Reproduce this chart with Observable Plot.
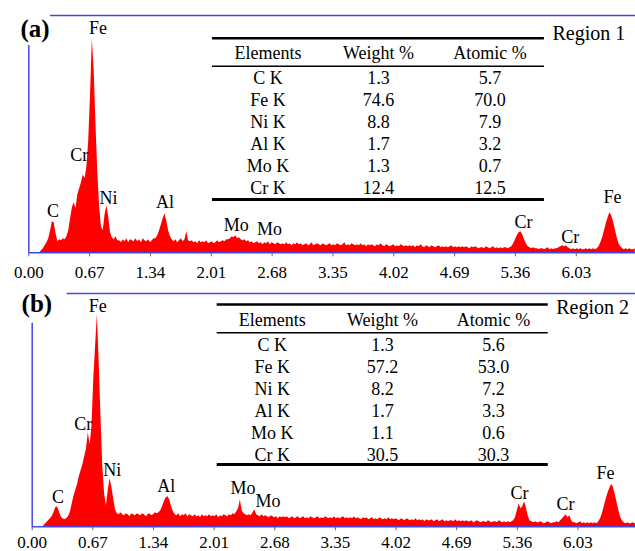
<!DOCTYPE html>
<html>
<head>
<meta charset="utf-8">
<script src="https://cdn.jsdelivr.net/npm/d3@7"></script>
<script src="https://cdn.jsdelivr.net/npm/@observablehq/plot@0.6"></script>
<style>
  html, body { margin: 0; padding: 0; background: #fff; }
  #chart svg { display: block; }
  #chart svg, #chart svg text { font-family: "Liberation Serif", "Times New Roman", serif; }
</style>
</head>
<body>
<div id="chart"></div>
<script>
// ---------- DATA ----------
const channelStart = 0;      // keV
const channelWidth = 0.02;   // keV per channel

// Region 1 spectrum (counts, arbitrary units)
const countsA = [
  0,0,0,0,0,0,0,2,4,7,
  10,14,22,31,30,19,11,13,12,14,
  13,16,22,34,45,50,44,58,64,70,
  78,74,86,112,158,214,182,128,80,46,
  26,22,38,47,36,20,15,13,16,12,
  12,10,13,11,14,10,13,12,11,14,
  11,13,10,14,12,11,13,10,12,14,
  14,17,22,28,34,39,31,22,16,13,
  11,13,10,12,14,11,13,21,12,11,
  12,10,11,9,12,10,11,10,12,9,
  10,11,9,10,12,10,11,12,11,13,
  13,14,16,15,17,14,15,13,12,13,
  11,12,10,11,9,10,11,9,10,8,
  10,9,11,8,10,9,8,10,9,8,
  9,8,10,8,9,7,9,8,10,8,
  9,7,8,9,7,8,10,7,8,9,
  8,7,9,8,7,8,9,7,8,7,
  9,8,7,8,10,7,8,7,9,8,
  7,8,7,9,7,8,6,8,7,8,
  7,6,8,7,9,7,6,8,7,6,
  7,8,6,7,6,8,7,6,7,6,
  7,6,7,5,7,6,8,6,5,7,
  6,5,7,6,5,6,7,5,6,5,
  6,5,6,7,5,6,5,6,5,6,
  5,6,5,4,6,5,6,5,4,5,
  5,4,6,5,4,5,6,4,5,4,
  5,4,5,5,4,5,6,9,13,17,
  20,21,18,13,9,6,5,4,5,4,
  4,3,4,4,3,4,5,3,4,3,
  4,4,5,6,7,6,7,5,4,3,
  4,3,4,3,4,3,3,4,3,4,
  3,4,3,4,6,10,15,22,29,35,
  40,37,31,23,15,9,6,4,3,4,
  3,4,3,3,4
];

// Region 2 spectrum (counts, arbitrary units)
const countsB = [
  0,0,0,0,0,0,0,2,4,6,
  8,10,14,19,20,15,10,8,7,8,
  10,14,22,30,36,42,50,56,62,70,
  78,94,82,100,147,180,212,165,110,60,
  33,21,36,48,40,28,17,13,12,14,
  12,11,13,12,10,13,12,11,13,12,
  11,13,12,10,12,13,11,12,14,13,
  14,16,20,25,29,30,27,20,15,12,
  11,13,10,12,11,13,10,12,11,10,
  12,10,11,9,12,10,11,10,12,10,
  11,10,12,9,11,10,12,11,10,12,
  11,13,12,15,18,27,16,13,12,11,
  12,11,14,17,12,11,10,12,10,11,
  10,9,11,10,9,10,8,10,9,10,
  9,10,8,9,10,8,9,10,8,9,
  10,8,9,8,10,9,8,9,10,8,
  9,8,10,9,8,9,8,10,8,9,
  8,9,10,8,9,8,9,8,10,8,
  9,8,7,9,8,9,7,8,9,7,
  8,7,9,8,7,8,7,9,7,8,
  7,8,7,6,8,7,6,8,7,6,
  7,6,8,6,7,6,7,5,7,6,
  6,7,5,6,7,5,6,7,5,6,
  5,6,6,5,7,5,6,5,6,5,
  6,5,5,6,4,5,6,5,4,5,
  5,4,6,5,4,5,5,4,6,5,
  4,5,4,5,4,5,6,9,16,23,
  18,20,25,19,11,6,5,4,5,4,
  4,5,4,3,4,5,4,3,4,4,
  5,4,6,8,10,12,9,11,6,4,
  4,3,4,5,3,4,3,4,3,4,
  3,4,3,5,8,13,20,27,33,38,
  42,40,33,25,17,10,6,4,3,4,
  3,3,4,3,3
];

const tickEnergies = [0, 0.67, 1.34, 2.01, 2.68, 3.35, 4.02, 4.69, 5.36, 6.03];

// peak annotations: element, energy (keV), label height (counts)
const peakNames   = ["Fe", "Cr", "Ni", "C", "Al", "Mo", "Mo", "Cr", "Cr", "Fe"];
const peakEnergyA = [0.762, 0.555, 0.878, 0.267, 1.500, 2.285, 2.651, 5.448, 5.962, 6.428];
const peakHeightA = [224.3, 97.3, 54.3, 41.6, 50.6, 27.3, 23.3, 30.6, 15.6, 55.6];
const peakEnergyB = [0.724, 0.565, 0.884, 0.285, 1.482, 2.329, 2.606, 5.385, 5.893, 6.335];
const peakHeightB = [220.3, 102.3, 57.0, 29.6, 40.3, 39.0, 25.6, 34.0, 22.3, 53.6];

// quantification tables
const tableHeader = ["Elements", "Weight %", "Atomic %"];
const elements = ["C K", "Fe K", "Ni K", "Al K", "Mo K", "Cr K"];
const weightA = [1.3, 74.6, 8.8, 1.7, 1.3, 12.4];
const atomicA = [5.7, 70.0, 7.9, 3.2, 0.7, 12.5];
const weightB = [1.3, 57.2, 8.2, 1.7, 1.1, 30.5];
const atomicB = [5.6, 53.0, 7.2, 3.3, 0.6, 30.3];

// ---------- LAYOUT ----------
const FONT = "Liberation Serif, Times New Roman, serif";
const BLUE = "#4646e6";
const W = 635;

const layoutA = {
  height: 278, marginLeft: 28.3, marginTop: 15, marginBottom: 25.7, tickPadding: 9,
  xMax: 6.682, yMax: 237.3, topStart: 0.239, leftTop: 207.3,
  cols: [2.634, 3.851, 5.079], headerY: 199.3,
  rowsY: [174.3, 152.3, 130.3, 108.3, 86.3, 64.3],
  lines: [[214.6, 2.6], [186.6, 1.6], [53.3, 3]], lineX: [2.023, 5.679],
  region: {x: 5.768, y: 219.3}, tag: {x: -0.091, y: 224.3}
};
const layoutB = {
  height: 273, marginLeft: 31.7, marginTop: 15, marginBottom: 24.7, tickPadding: 5,
  xMax: 6.666, yMax: 233.3, topStart: 0.387, leftTop: 203.6,
  cols: [2.652, 3.871, 5.097], headerY: 206.3,
  rowsY: [181.3, 159.3, 137.3, 115.3, 93.3, 71.3],
  lines: [[222.3, 2.6], [194, 1.6], [62.3, 3]], lineX: [2.044, 5.702],
  region: {x: 5.790, y: 219.3}, tag: {x: -0.117, y: 223.3}
};

function panel(counts, peakE, peakH, weight, atomic, regionText, tagText, L) {
  const spectrum = counts.map((c, i) => ({e: channelStart + i * channelWidth, c}));
  const peaks = peakNames.map((n, i) => ({name: n, e: peakE[i], h: peakH[i]}));
  const cells = [];
  tableHeader.forEach((t, j) => cells.push({x: L.cols[j], y: L.headerY, t}));
  elements.forEach((el, i) => {
    cells.push({x: L.cols[0], y: L.rowsY[i], t: el});
    cells.push({x: L.cols[1], y: L.rowsY[i], t: weight[i].toFixed(1)});
    cells.push({x: L.cols[2], y: L.rowsY[i], t: atomic[i].toFixed(1)});
  });
  const lines = L.lines.map(([y, w]) => ({y, w}));

  return Plot.plot({
    width: W, height: L.height,
    marginLeft: L.marginLeft, marginRight: 0,
    marginTop: L.marginTop, marginBottom: L.marginBottom,
    x: {domain: [0, L.xMax]},
    y: {domain: [0, L.yMax], axis: null},
    style: {fontFamily: FONT, background: "white", color: "black", overflow: "visible"},
    marks: [
      Plot.areaY(spectrum, {x: "e", y: "c", fill: "#ff0000", curve: "linear", clip: true}),
      Plot.ruleY([0], {x1: 0, x2: L.xMax, stroke: BLUE, strokeWidth: 1.5}),
      Plot.ruleY([L.yMax], {x1: L.topStart, x2: L.xMax, stroke: BLUE, strokeWidth: 1.5}),
      Plot.ruleX([0], {y1: 0, y2: L.leftTop, stroke: BLUE, strokeWidth: 1.5}),
      Plot.axisX(tickEnergies, {
        tickFormat: d3.format(".2f"), tickSize: 4, tickPadding: L.tickPadding,
        fontSize: 17, fontFamily: FONT, stroke: "#666", fill: "black", label: null
      }),
      Plot.text(peaks, {x: "e", y: "h", text: "name", fontSize: 18, fontFamily: FONT, fill: "black"}),
      Plot.ruleY(lines, {y: "y", x1: L.lineX[0], x2: L.lineX[1], strokeWidth: "w", stroke: "black"}),
      Plot.text(cells, {x: "x", y: "y", text: "t", fontSize: 18, fontFamily: FONT, fill: "black"}),
      Plot.text([regionText], {x: L.region.x, y: L.region.y, text: d => d, fontSize: 20, fontFamily: FONT, textAnchor: "start", fill: "black"}),
      Plot.text([tagText], {x: L.tag.x, y: L.tag.y, text: d => d, fontSize: 25, fontFamily: FONT, fontWeight: "bold", textAnchor: "start", fill: "black"})
    ]
  });
}

const chart = document.getElementById("chart");
chart.append(panel(countsA, peakEnergyA, peakHeightA, weightA, atomicA, "Region 1", "(a)", layoutA));
chart.append(panel(countsB, peakEnergyB, peakHeightB, weightB, atomicB, "Region 2", "(b)", layoutB));
</script>
</body>
</html>
